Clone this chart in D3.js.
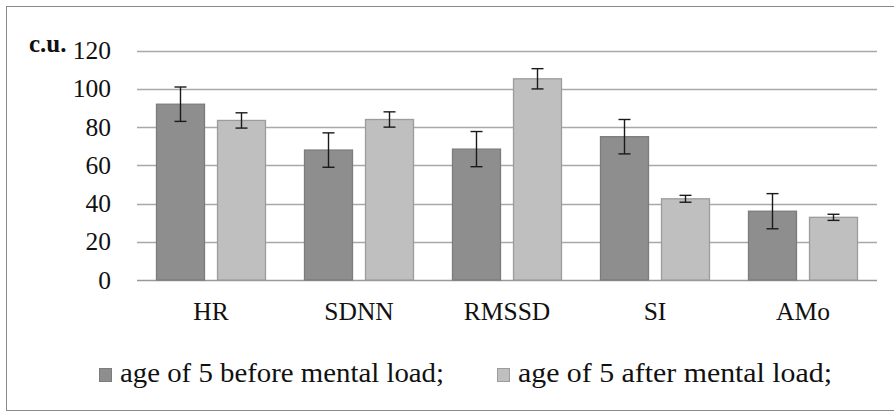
<!DOCTYPE html>
<html><head><meta charset="utf-8">
<script src="https://cdn.jsdelivr.net/npm/d3@7"></script>
<style>body{margin:0;background:#fff}svg{display:block}text{font-family:"Liberation Serif","Times New Roman",serif}</style>
</head><body><svg id="c" width="894" height="412"></svg>
<script>
const categories = ["HR","SDNN","RMSSD","SI","AMo"];
const seriesNames = ["age of 5 before mental load;","age of 5 after mental load;"];
const beforeValues = [92, 68, 68.5, 75, 36];
const beforeErrors = [9, 9, 9.2, 9, 9.2];
const afterValues = [83.5, 84, 105.3, 42.5, 32.8];
const afterErrors = [4, 4, 5.3, 1.8, 1.6];
const yTicks = [0,20,40,60,80,100,120];
const colors = ["#8e8e8e","#bfbfbf"];
const strokes = ["#7c7c7c","#9c9c9c"];

const svg = d3.select("#c");
svg.append("rect").attr("x",6.5).attr("y",6.5).attr("width",900).attr("height",404)
  .attr("fill","none").attr("stroke","#8a8a8a");

const x = d3.scaleBand().domain(categories).range([137,877]);
const xs = d3.scaleBand().domain([0,1]).range([0,x.bandwidth()]).paddingInner(0.197).paddingOuter(0.3115);
const y = d3.scaleLinear().domain([0,120]).range([280,50.7]);

svg.append("g").selectAll("line").data(yTicks).join("line")
  .attr("x1",137).attr("x2",877).attr("y1",d=>Math.round(y(d))+0.5).attr("y2",d=>Math.round(y(d))+0.5)
  .attr("stroke",d=>d===0?"#999":"#a8a8a8").attr("stroke-width",1.3);

svg.append("g").selectAll("text").data(yTicks).join("text")
  .attr("x",111).attr("y",d=>y(d)+8.5).attr("text-anchor","end")
  .attr("font-size",25.5).attr("fill","#111").text(d=>d);

svg.append("text").attr("x",29).attr("y",52).attr("font-size",25).attr("font-weight","bold").attr("fill","#111").text("c.u.");

const data = [];
categories.forEach((c,i)=>{
  data.push({c,s:0,v:beforeValues[i],e:beforeErrors[i]});
  data.push({c,s:1,v:afterValues[i],e:afterErrors[i]});
});
const g = svg.append("g");
g.selectAll("rect").data(data).join("rect")
  .attr("x",d=>x(d.c)+xs(d.s)+0.5).attr("width",xs.bandwidth()-1)
  .attr("y",d=>y(d.v)).attr("height",d=>y(0)-y(d.v))
  .attr("fill",d=>colors[d.s]).attr("stroke",d=>strokes[d.s]).attr("stroke-width",1.3);

const eb = svg.append("g").attr("stroke","#1a1a1a").attr("stroke-width",1.4);
data.forEach(d=>{
  const cx = x(d.c)+xs(d.s)+xs.bandwidth()/2;
  eb.append("line").attr("x1",cx).attr("x2",cx).attr("y1",y(d.v+d.e)).attr("y2",y(d.v-d.e));
  eb.append("line").attr("x1",cx-6).attr("x2",cx+6).attr("y1",y(d.v+d.e)).attr("y2",y(d.v+d.e));
  eb.append("line").attr("x1",cx-6).attr("x2",cx+6).attr("y1",y(d.v-d.e)).attr("y2",y(d.v-d.e));
});

svg.append("g").selectAll("text").data(categories).join("text")
  .attr("x",d=>x(d)+x.bandwidth()/2).attr("y",320).attr("text-anchor","middle")
  .attr("font-size",25.5).attr("fill","#111").text(d=>d);

const legX = [99, 497];
const legW = [324, 314];
seriesNames.forEach((n,i)=>{
  svg.append("rect").attr("x",legX[i]+0.5).attr("y",368.5).attr("width",12).attr("height",13)
    .attr("fill",colors[i]).attr("stroke",strokes[i]);
  svg.append("text").attr("x",legX[i]+21).attr("y",382).attr("font-size",27).attr("fill","#111")
    .attr("textLength",legW[i]).attr("lengthAdjust","spacingAndGlyphs").text(n);
});
</script></body></html>
